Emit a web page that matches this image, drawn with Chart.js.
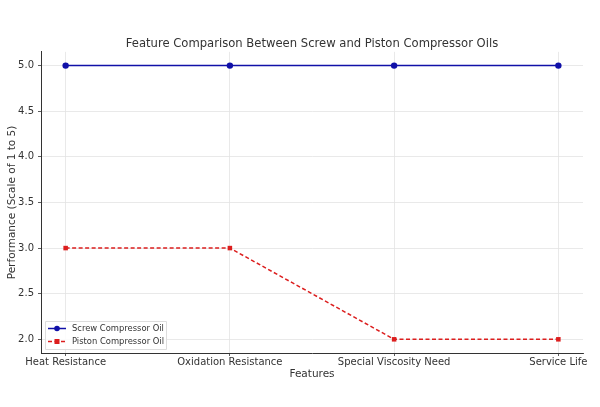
<!DOCTYPE html>
<html><head><meta charset="utf-8">
<script src="https://cdn.jsdelivr.net/npm/chart.js@4"></script>
<style>html,body{margin:0;padding:0;background:#fff}#wrap{width:600px;height:407px}</style>
</head><body><div id="wrap"><canvas id="c" width="600" height="407"></canvas></div>
<script>
const categories = ["Heat Resistance", "Oxidation Resistance", "Special Viscosity Need", "Service Life"];
const screwValues = [5, 5, 5, 5];
const pistonValues = [3, 3, 2, 2];
const yTicks = [2.0, 2.5, 3.0, 3.5, 4.0, 4.5, 5.0];
const seriesNames = ["Screw Compressor Oil", "Piston Compressor Oil"];

const FONT = "'DejaVu Sans', sans-serif";
const BLUE = '#1010a8';
const RED = '#dc1e1e';

const legendPlugin = {
  id: 'innerLegend',
  afterDraw(chart) {
    const ctx = chart.ctx;
    const x0 = 45.5, y0 = 321.5, w = 121, h = 28;
    ctx.save();
    ctx.fillStyle = 'rgba(255,255,255,0.85)';
    ctx.strokeStyle = '#dddddd';
    ctx.lineWidth = 1;
    ctx.beginPath(); ctx.rect(x0, y0, w, h); ctx.fill(); ctx.stroke();
    const rows = [
      {name: seriesNames[0], color: BLUE, dash: [], shape: 'circle', y: 328.5},
      {name: seriesNames[1], color: RED, dash: [4, 2.5], shape: 'square', y: 341.5}
    ];
    ctx.font = "8.4px " + FONT;
    ctx.textBaseline = 'middle';
    rows.forEach(r => {
      ctx.strokeStyle = r.color; ctx.lineWidth = 1.5; ctx.setLineDash(r.dash);
      ctx.beginPath(); ctx.moveTo(48, r.y); ctx.lineTo(66, r.y); ctx.stroke();
      ctx.setLineDash([]);
      ctx.fillStyle = r.color;
      if (r.shape === 'circle') { ctx.beginPath(); ctx.arc(57, r.y, 2.8, 0, Math.PI * 2); ctx.fill(); }
      else { ctx.fillRect(54.5, r.y - 2.5, 5, 5); }
      ctx.fillStyle = '#333';
      ctx.fillText(r.name, 72, r.y + 0.5);
    });
    ctx.restore();
  }
};

new Chart(document.getElementById('c'), {
  type: 'line',
  data: {
    datasets: [
      {
        label: seriesNames[0],
        data: screwValues.map((v, i) => ({x: i, y: v})),
        borderColor: BLUE, backgroundColor: BLUE,
        borderWidth: 1.5, pointRadius: 3.2, pointStyle: 'circle', pointBorderWidth: 0,
        tension: 0
      },
      {
        label: seriesNames[1],
        data: pistonValues.map((v, i) => ({x: i, y: v})),
        borderColor: RED, backgroundColor: RED,
        borderWidth: 1.5, borderDash: [4, 2.5], pointRadius: 3.2, pointStyle: 'rect', pointBorderWidth: 0,
        tension: 0
      }
    ]
  },
  options: {
    responsive: false,
    animation: false,
    layout: {padding: {left: 0, right: 17, top: 0, bottom: 0}},
    plugins: {
      legend: {display: false},
      tooltip: {enabled: false},
      title: {
        display: true, fullSize: false,
        text: 'Feature Comparison Between Screw and Piston Compressor Oils',
        color: '#333', font: {family: FONT, size: 11.6, weight: 'normal'},
        padding: {top: 37, bottom: 1}
      }
    },
    scales: {
      x: {
        type: 'linear', min: -0.15, max: 3.15,
        afterBuildTicks(s) { s.ticks = categories.map((c, i) => ({value: i})); },
        afterFit(s) { s.height = 54; },
        ticks: {
          callback: (v) => categories[v] ?? '',
          color: '#333', font: {family: FONT, size: 10}, padding: 0, maxRotation: 0, autoSkip: false
        },
        grid: {color: '#e3e3e3', lineWidth: 0.8, tickLength: 3, tickColor: '#333'},
        border: {display: true, color: '#333', width: 1},
        title: {display: true, text: 'Features', color: '#333', font: {family: FONT, size: 10.5}, padding: {top: 0, bottom: 26}}
      },
      y: {
        type: 'linear', min: 1.85, max: 5.15,
        afterBuildTicks(s) { s.ticks = yTicks.map(v => ({value: v})); },
        afterFit(s) { s.width = 41; },
        ticks: {
          callback: (v) => v.toFixed(1),
          color: '#333', font: {family: FONT, size: 10}, padding: 4
        },
        grid: {color: '#e3e3e3', lineWidth: 0.8, tickLength: 3, tickColor: '#333'},
        border: {display: true, color: '#333', width: 1},
        title: {display: true, text: 'Performance (Scale of 1 to 5)', color: '#333', font: {family: FONT, size: 10.5}, padding: {top: 6, bottom: 0}}
      }
    }
  },
  plugins: [legendPlugin]
});
</script></body></html>
